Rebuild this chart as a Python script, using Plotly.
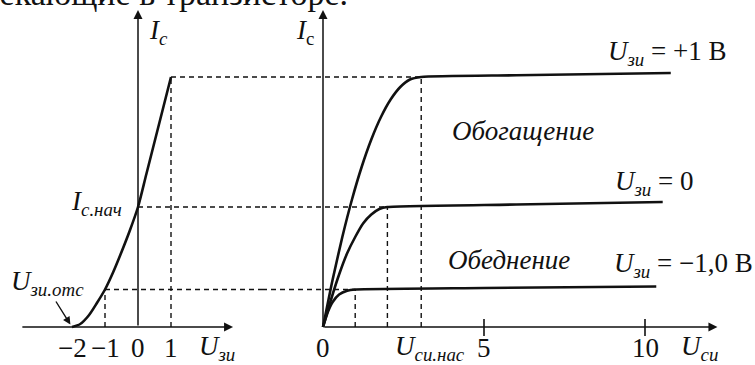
import plotly.graph_objects as go

# Transfer characteristic Ic(Uзи), relative units
u_gs = [-2.0, -1.75, -1.5, -1.25, -1.0, -0.75, -0.5, -0.25, 0.0, 0.25, 0.5, 0.75, 1.0]
ic_transfer = [0.0, 0.12, 0.45, 0.95, 1.5, 2.2, 3.0, 3.85, 4.8, 6.1, 7.4, 8.7, 10.0]

# Output characteristics Ic(Uси) for Uзи = +1, 0, -1 V
u_ds_p1 = [0.0, 0.3, 0.6, 0.9, 1.2, 1.5, 1.8, 2.1, 2.4, 2.7, 3.05, 6.0, 10.8]
ic_p1 = [0.0, 1.9, 3.6, 5.1, 6.4, 7.5, 8.4, 9.1, 9.6, 9.9, 10.0, 10.07, 10.16]

u_ds_0 = [0.0, 0.25, 0.5, 0.75, 1.0, 1.25, 1.5, 1.75, 2.0, 6.0, 10.55]
ic_0 = [0.0, 1.1, 2.1, 2.95, 3.6, 4.15, 4.5, 4.72, 4.8, 4.9, 5.0]

u_ds_m1 = [0.0, 0.15, 0.3, 0.5, 0.75, 1.0, 5.0, 10.35]
ic_m1 = [0.0, 0.6, 1.0, 1.3, 1.45, 1.5, 1.56, 1.62]

# Saturation points (Uси.нас, Ic) and matching gate voltages
u_gs_levels = [1.0, 0.0, -1.0]
u_sat = [3.05, 2.0, 1.0]
ic_sat = [10.0, 4.8, 1.5]

# Tick labels
left_ticks = [-2, -1, 0, 1]
left_tick_text = ["\u22122", "\u22121", "0", "1"]
right_ticks = [0, 5, 10]
right_tick_text = ["0", "5", "10"]
right_tick_marks = [5, 10]

FONT = "Liberation Serif"
INK = "#111111"
W, H = 755, 365
SPLIT = 262 / W

x1_range = [-138 / 33, (262 - 138) / 33]
x2_range = [(262 - 323) / 32.2, (755 - 323) / 32.2]
y_range = [-38 / 25, 327 / 25]

fig = go.Figure()

curve = dict(color=INK, width=2.6)
fig.add_trace(go.Scatter(x=u_gs, y=ic_transfer, mode="lines", line=dict(shape="spline", smoothing=0.8, **curve),
                         xaxis="x", yaxis="y"))
for xs, ys in [(u_ds_p1, ic_p1), (u_ds_0, ic_0), (u_ds_m1, ic_m1)]:
    fig.add_trace(go.Scatter(x=xs, y=ys, mode="lines", line=dict(shape="spline", smoothing=0.6, **curve),
                             xaxis="x2", yaxis="y"))

dash = dict(color=INK, width=1.4, dash="5px,4px")
shapes = []
# horizontal guides: from the transfer curve across to the knee of each output curve
for ug, us, ic in zip(u_gs_levels, u_sat, ic_sat):
    shapes.append(dict(type="line", xref="x", yref="y", x0=ug, x1=x1_range[1], y0=ic, y1=ic, line=dash))
    shapes.append(dict(type="line", xref="x2", yref="y", x0=x2_range[0], x1=us, y0=ic, y1=ic, line=dash))
    shapes.append(dict(type="line", xref="x2", yref="y", x0=us, x1=us, y0=0, y1=ic, line=dash))
# vertical guides on the transfer plot
for ug, ic in zip(u_gs_levels, ic_sat):
    if ug != 0:
        shapes.append(dict(type="line", xref="x", yref="y", x0=ug, x1=ug, y0=0, y1=ic, line=dash))
# tick marks on Uси axis
for t in right_tick_marks:
    shapes.append(dict(type="line", xref="x2", yref="y", x0=t, x1=t, ysizemode="pixel", yanchor=0,
                       y0=-9, y1=8, line=dict(color=INK, width=1.6)))

ann = []
axis_arrow = dict(showarrow=True, text="", arrowhead=2, arrowsize=1.2, arrowwidth=1.5, arrowcolor=INK,
                  standoff=0, startstandoff=0)
# axes with arrows
ann.append(dict(xref="x", yref="y", axref="x", ayref="y", x=2.88, y=0, ax=-3.55, ay=0, **axis_arrow))
ann.append(dict(xref="x", yref="y", axref="x", ayref="y", x=0, y=12.68, ax=0, ay=0, **axis_arrow))
ann.append(dict(xref="x2", yref="y", axref="x2", ayref="y", x=0, y=12.68, ax=0, ay=0, **axis_arrow))
ann.append(dict(xref="x2", yref="y", axref="x2", ayref="y", x=12.25, y=0, ax=0, ay=0, **axis_arrow))

txt = dict(showarrow=False, font=dict(family=FONT, size=27, color=INK))
for v, t in zip(left_ticks, left_tick_text):
    ann.append(dict(xref="x", yref="y", x=v, y=-0.84, text=t, **txt))
for v, t in zip(right_ticks, right_tick_text):
    ann.append(dict(xref="x2", yref="y", x=v, y=-0.84, text=t, **txt))

ann.append(dict(xref="x", yref="y", x=2.39, y=-0.84, text="<i>U<sub>зи</sub></i>", **txt))
ann.append(dict(xref="x2", yref="y", x=11.7, y=-0.84, text="<i>U<sub>си</sub></i>", **txt))
ann.append(dict(xref="x2", yref="y", x=u_sat[0], xshift=9, y=-0.84, text="<i>U<sub>си.нас</sub></i>", **txt))

ann.append(dict(xref="x", yref="y", x=0, xshift=9, xanchor="left", y=11.8, text="<i>I<sub>c</sub></i>", **txt))
ann.append(dict(xref="x2", yref="y", x=0, xshift=-7, xanchor="right", y=11.8, text="<i>I</i><sub>c</sub>", **txt))
ann.append(dict(xref="x", yref="y", x=0, xshift=-14, xanchor="right", y=ic_sat[1], yshift=4,
                text="<i>I<sub>c.нач</sub></i>", **txt))
ann.append(dict(xref="x", yref="y", x=-2.73, y=1.76, text="<i>U<sub>зи.отс</sub></i>", **txt))
ann.append(dict(xref="x", yref="y", x=u_gs[0], y=ic_transfer[0], showarrow=True, text="", arrowhead=2,
                arrowsize=1.1, arrowwidth=1.4, arrowcolor=INK, ax=-17, ay=-27, standoff=3))

ann.append(dict(xref="x2", yref="y", x=6.2, y=7.85, text="<i>Обогащение</i>", **txt))
ann.append(dict(xref="x2", yref="y", x=5.78, y=2.68, text="<i>Обеднение</i>", **txt))
ann.append(dict(xref="x2", yref="y", x=10.71, y=10.95, text="<i>U<sub>зи</sub></i> = +1 В", **txt))
ann.append(dict(xref="x2", yref="y", x=10.31, y=5.76, text="<i>U<sub>зи</sub></i> = 0", **txt))
ann.append(dict(xref="x2", yref="y", x=11.21, y=2.48, text="<i>U<sub>зи</sub></i> = \u22121,0 В", **txt))

# running text line above the figure
ann.append(dict(xref="paper", yref="paper", x=350 / W, y=1, xanchor="right", yanchor="bottom", yshift=-14,
                text="протекающие в транзисторе.", showarrow=False,
                font=dict(family=FONT, size=34, color=INK)))

hidden = dict(visible=False, fixedrange=True)
fig.update_layout(
    width=W, height=H, autosize=False,
    margin=dict(l=0, r=0, t=0, b=0),
    paper_bgcolor="white", plot_bgcolor="white",
    showlegend=False,
    xaxis=dict(domain=[0, SPLIT], range=x1_range, anchor="y", **hidden),
    xaxis2=dict(domain=[SPLIT, 1], range=x2_range, anchor="y", **hidden),
    yaxis=dict(domain=[0, 1], range=y_range, anchor="x", **hidden),
    shapes=shapes,
    annotations=ann,
)

fig.write_html("out.html", config={"displayModeBar": False})
